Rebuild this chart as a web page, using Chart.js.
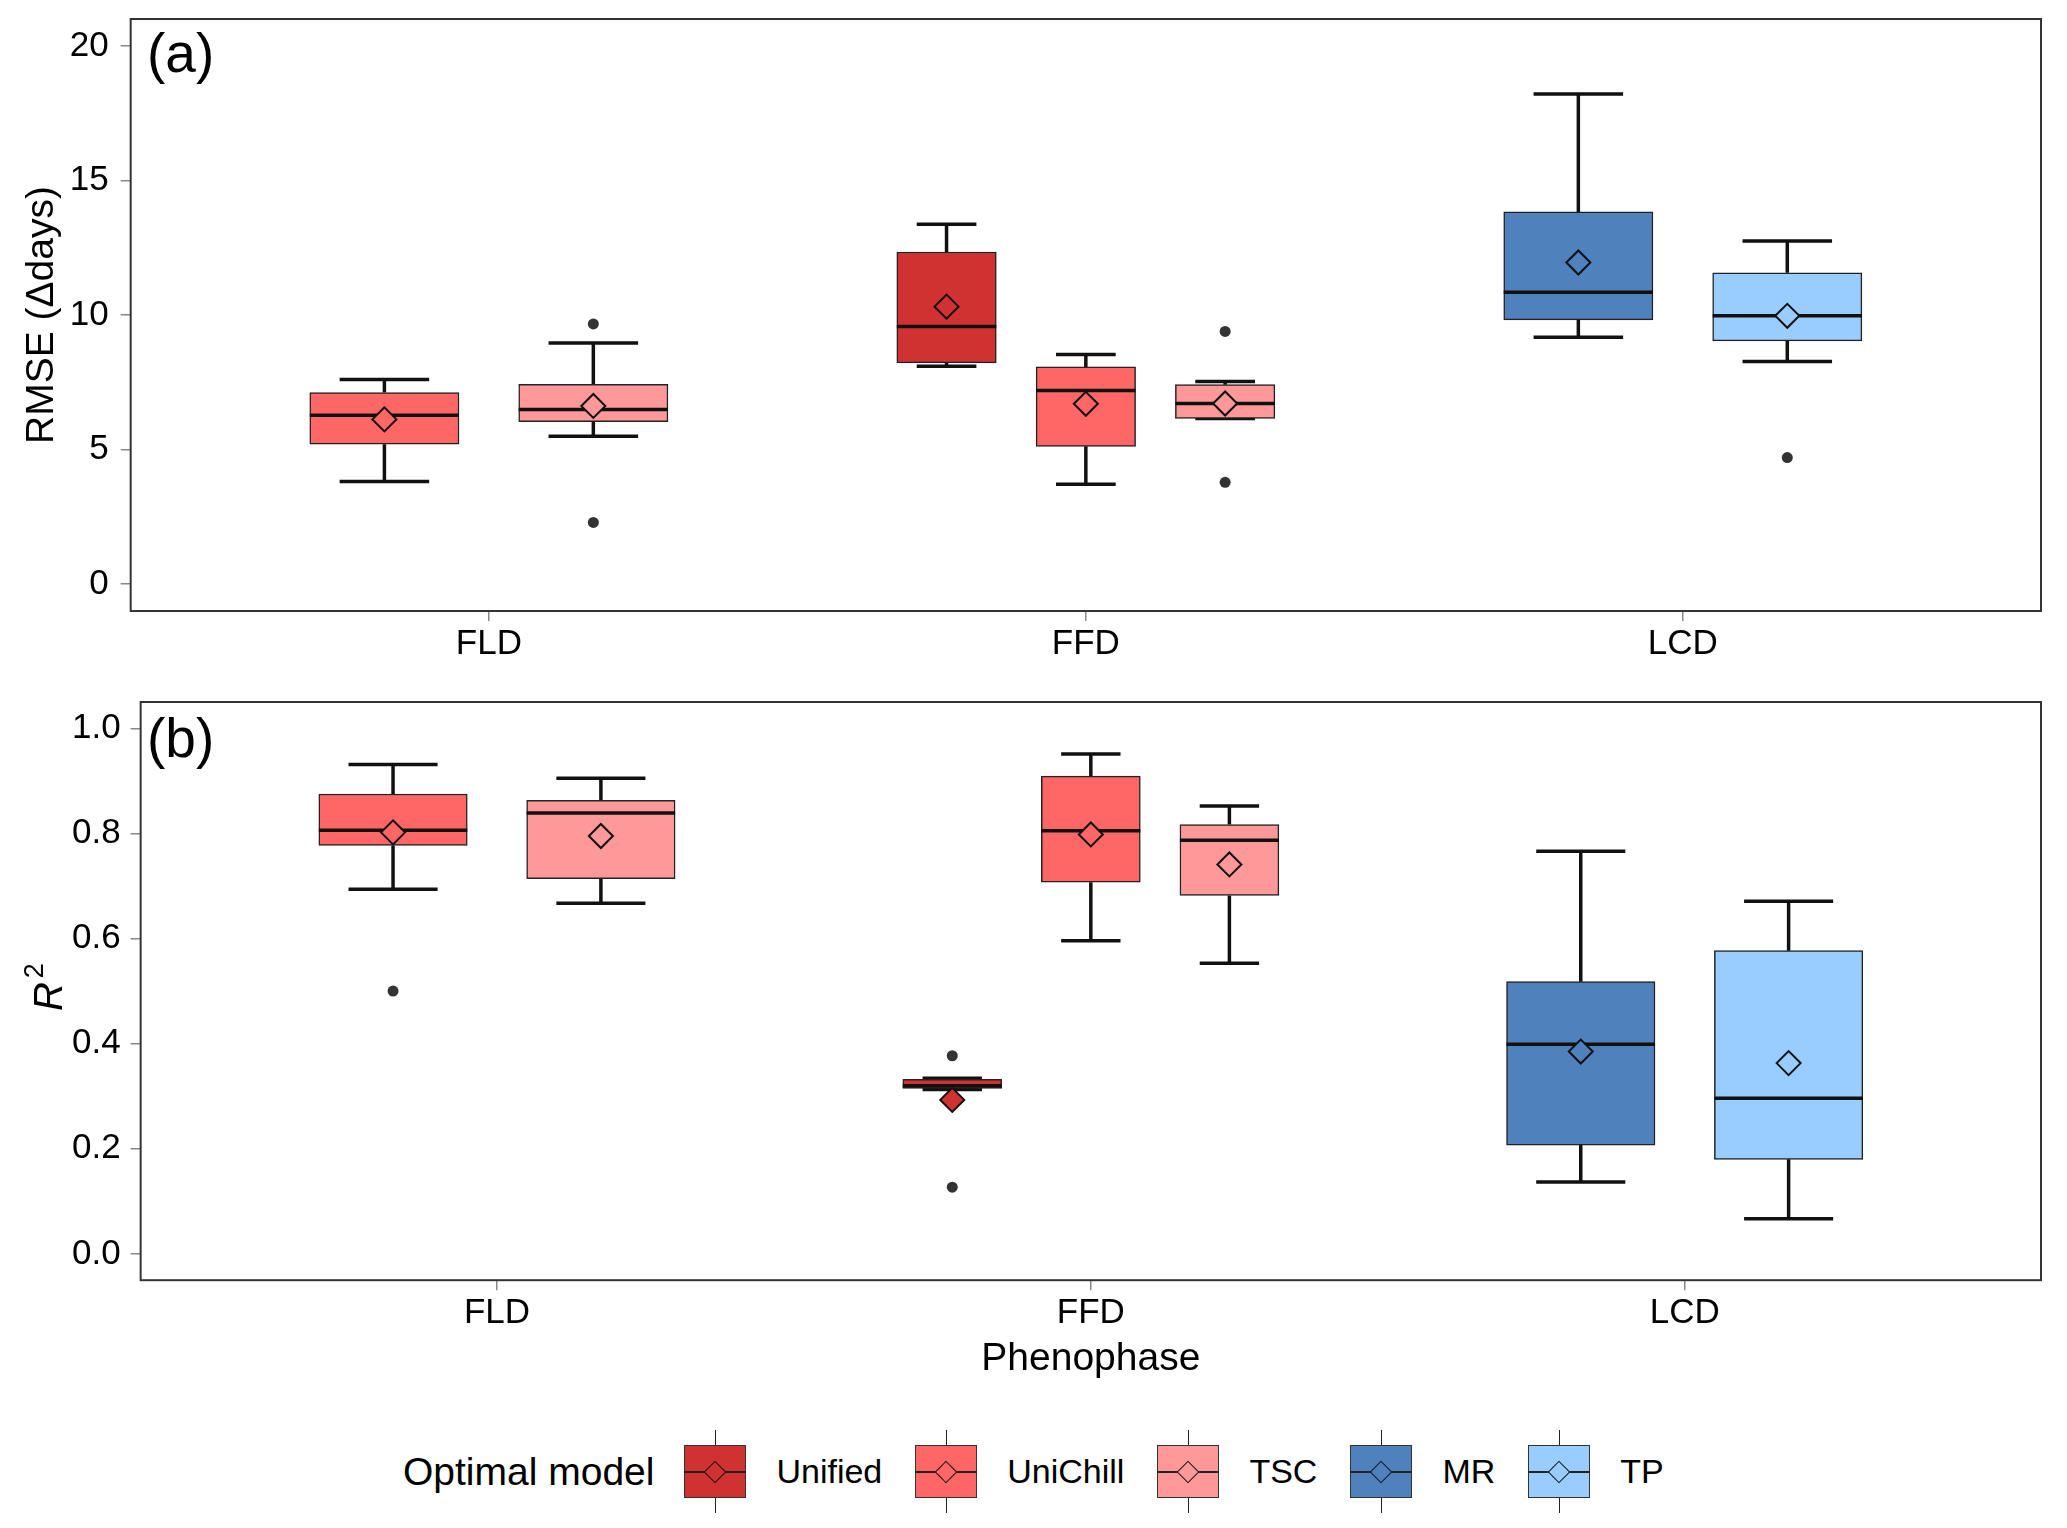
<!DOCTYPE html>
<html>
<head>
<meta charset="utf-8">
<title>RMSE and R2 of optimal phenology models</title>
<script src="https://cdn.jsdelivr.net/npm/chart.js@4.4.1/dist/chart.umd.min.js"></script>
<style>
  html, body { margin: 0; padding: 0; background: #fff; }
  #wrap { position: relative; width: 2067px; height: 1528px; font-family: 'Liberation Sans', Arial, sans-serif; color: #000; }
  #chartA { position: absolute; left: 0; top: 0; }
  #chartB { position: absolute; left: 0; top: 680px; }
  #legend { position: absolute; left: 403px; top: 1430px; height: 83px; display: flex; align-items: center; white-space: nowrap; }
  .ltitle { font-size: 39px; margin-right: 30px; }
  .llab { font-size: 34px; margin-right: 33px; }
  .lkey { position: relative; width: 62px; height: 83px; margin-right: 30px; flex: none; }
  .lkey .box { position: absolute; left: 0; top: 15px; width: 62px; height: 53px; box-sizing: border-box; border: 1.5px solid #333; }
  .lkey .wh { position: absolute; left: 30.5px; width: 1.5px; height: 15px; background: #222; }
  .lkey .top { top: 0; }
  .lkey .bot { top: 68px; }
  .lkey .med { position: absolute; left: 0; top: 40.5px; width: 62px; height: 2px; background: #222; }
  .lkey .dia { position: absolute; left: 23px; top: 33.5px; width: 16px; height: 16px; box-sizing: border-box; border: 1.5px solid #111; transform: rotate(45deg); }
</style>
</head>
<body>
<div id="wrap">
  <canvas id="chartA" width="2067" height="680"></canvas>
  <canvas id="chartB" width="2067" height="720"></canvas>
  <div id="legend"><span class="ltitle">Optimal model</span></div>
</div>
<script>
// Categories and models
const phases = ["FLD", "FFD", "LCD"];
const modelNames = ["Unified", "UniChill", "TSC", "MR", "TP"];
const modelColors = ["#D03232", "#FF6666", "#FF9999", "#4F81BD", "#99CCFF"];

// One entry per box, left to right
const boxPhase = ["FLD", "FLD", "FFD", "FFD", "FFD", "LCD", "LCD"];
const boxModel = ["UniChill", "TSC", "Unified", "UniChill", "TSC", "MR", "TP"];

// (a) RMSE (days)
const rmseLow    = [3.81, 5.49, 8.10, 3.71, 6.15, 9.17, 8.27];
const rmseQ1     = [5.20, 6.04, 8.22, 5.12, 6.16, 9.82, 9.04];
const rmseMedian = [6.27, 6.49, 9.57, 7.19, 6.71, 10.85, 9.97];
const rmseQ3     = [7.12, 7.42, 12.34, 8.07, 7.41, 13.83, 11.57];
const rmseHigh   = [7.60, 8.96, 13.37, 8.53, 7.53, 18.21, 12.75];
const rmseMean   = [6.12, 6.62, 10.31, 6.70, 6.71, 11.95, 9.97];
const rmseOutliers = [[], [9.67, 2.29], [], [], [9.39, 3.78], [], [4.70]];
const rmseTicks = [0, 5, 10, 15, 20];

// (b) R2
const r2Low    = [0.694, 0.667, 0.313, 0.596, 0.553, 0.137, 0.067];
const r2Q1     = [0.777, 0.714, 0.315, 0.707, 0.682, 0.207, 0.180];
const r2Median = [0.806, 0.839, 0.320, 0.805, 0.787, 0.399, 0.296];
const r2Q3     = [0.875, 0.863, 0.332, 0.909, 0.817, 0.518, 0.577];
const r2High   = [0.931, 0.905, 0.334, 0.951, 0.852, 0.766, 0.671];
const r2Mean   = [0.802, 0.795, 0.293, 0.798, 0.741, 0.385, 0.363];
const r2Outliers = [[0.500], [], [0.377, 0.127], [], [], [], []];
const r2Ticks = [0, 0.2, 0.4, 0.6, 0.8, 1.0];

const FONT = "'Liberation Sans', Arial, sans-serif";
Chart.defaults.font.family = FONT;
Chart.defaults.color = '#000';

function colorOf(model) {
    return modelColors[modelNames.indexOf(model)];
}

// Dodged x position and width (category units) of every box
function boxLayout() {
    return boxPhase.map((ph, i) => {
        const n = boxPhase.filter(p => p === ph).length;
        const k = boxPhase.slice(0, i).filter(p => p === ph).length;
        const slot = 0.7 / n;
        return { x: phases.indexOf(ph) + 1 + (k - (n - 1) / 2) * slot, width: 0.5 / n };
    });
}

function buildDatasets(s) {
    const whiskers = [], medians = [], means = [], meanColors = [], outliers = [], boxes = [];

    boxLayout().forEach((b, i) => {
        const color = colorOf(boxModel[i]);
        const half = b.width / 2;
        const cap = b.width * 0.3;

        whiskers.push({ x: b.x, y: s.low[i] }, { x: b.x, y: s.q1[i] }, { x: b.x, y: null });
        whiskers.push({ x: b.x, y: s.q3[i] }, { x: b.x, y: s.high[i] }, { x: b.x, y: null });
        whiskers.push({ x: b.x - cap, y: s.low[i] }, { x: b.x + cap, y: s.low[i] }, { x: b.x, y: null });
        whiskers.push({ x: b.x - cap, y: s.high[i] }, { x: b.x + cap, y: s.high[i] }, { x: b.x, y: null });

        medians.push({ x: b.x - half, y: s.median[i] }, { x: b.x + half, y: s.median[i] }, { x: b.x, y: null });

        means.push({ x: b.x, y: s.mean[i] });
        meanColors.push(color);

        s.outliers[i].forEach(v => outliers.push({ x: b.x, y: v }));

        boxes.push({
            type: 'bar',
            data: [{ x: b.x, y: [s.q1[i], s.q3[i]] }],
            backgroundColor: color,
            borderColor: '#222',
            borderWidth: 1.5,
            borderSkipped: false,
            grouped: false,
            boxWidthUnits: b.width
        });
    });

    return [
        { type: 'scatter', data: means, pointStyle: 'rectRot', pointRadius: 12,
          pointBackgroundColor: meanColors, pointBorderColor: '#111', pointBorderWidth: 2 },
        { type: 'scatter', data: outliers, pointStyle: 'circle', pointRadius: 5.5,
          pointBackgroundColor: '#333', pointBorderColor: '#333', pointBorderWidth: 0 },
        { type: 'scatter', data: medians, showLine: true, spanGaps: false,
          borderColor: '#111', borderWidth: 3.5, pointRadius: 0 },
        ...boxes,
        { type: 'scatter', data: whiskers, showLine: true, spanGaps: false,
          borderColor: '#111', borderWidth: 3.5, pointRadius: 0 }
    ];
}

// Box widths follow the x scale (units -> pixels)
const boxWidthPlugin = {
    id: 'boxWidth',
    beforeDatasetsUpdate(chart) {
        const xs = chart.scales.x;
        const pxPerUnit = xs.width / (xs.max - xs.min);
        chart.data.datasets.forEach(ds => {
            if (ds.boxWidthUnits) ds.barThickness = ds.boxWidthUnits * pxPerUnit;
        });
    }
};

// Frame around the plot area and the panel letter
const panelFrame = {
    id: 'panelFrame',
    afterDatasetsDraw(chart, args, opts) {
        const { ctx, chartArea: a } = chart;
        ctx.save();
        ctx.strokeStyle = '#333';
        ctx.lineWidth = 2;
        ctx.strokeRect(a.left, a.top, a.right - a.left, a.bottom - a.top);
        ctx.fillStyle = '#000';
        ctx.font = '55px ' + FONT;
        ctx.textBaseline = 'middle';
        ctx.textAlign = 'left';
        ctx.fillText(opts.label, 147, a.top + opts.labelY);
        ctx.restore();
    }
};

// Italic R with superscript 2 as the y title of panel (b)
const r2Title = {
    id: 'r2Title',
    afterDraw(chart) {
        const { ctx, chartArea: a } = chart;
        ctx.save();
        ctx.translate(62, (a.top + a.bottom) / 2 - 4);
        ctx.rotate(-Math.PI / 2);
        ctx.fillStyle = '#000';
        ctx.textBaseline = 'alphabetic';
        ctx.font = 'italic 40px ' + FONT;
        const wR = ctx.measureText('R').width;
        ctx.font = '27px ' + FONT;
        const w2 = ctx.measureText('2').width;
        const x0 = -(wR + 4 + w2) / 2;
        ctx.font = 'italic 40px ' + FONT;
        ctx.fillText('R', x0, 0);
        ctx.font = '27px ' + FONT;
        ctx.fillText('2', x0 + wR + 4, -19);
        ctx.restore();
    }
};

function makeChart(canvasId, stats, yRange, yTicks, yFormat, cfg) {
    return new Chart(document.getElementById(canvasId), {
        type: 'bar',
        data: { datasets: buildDatasets(stats) },
        options: {
            responsive: false,
            animation: false,
            devicePixelRatio: 1,
            events: [],
            layout: { padding: cfg.padding },
            plugins: {
                legend: { display: false },
                tooltip: { enabled: false },
                panelFrame: { label: cfg.label, labelY: cfg.labelY }
            },
            scales: {
                x: {
                    type: 'linear',
                    min: 0.4,
                    max: 3.6,
                    offset: false,
                    afterBuildTicks: sc => { sc.ticks = phases.map((p, i) => ({ value: i + 1 })); },
                    ticks: { callback: v => phases[v - 1], font: { size: 35 }, color: '#000',
                             padding: 2, maxRotation: 0, autoSkip: false },
                    grid: { drawOnChartArea: false, drawTicks: true, tickLength: 10,
                            color: '#888', lineWidth: 1.5, offset: false },
                    border: { display: false },
                    title: cfg.xTitle
                },
                y: {
                    type: 'linear',
                    min: yRange[0],
                    max: yRange[1],
                    afterBuildTicks: sc => { sc.ticks = yTicks.map(v => ({ value: v })); },
                    // small lineHeight keeps the end labels from padding the plot area
                    ticks: { callback: yFormat, font: { size: 35, lineHeight: 0.4 }, color: '#000', padding: cfg.yPad },
                    grid: { drawOnChartArea: false, drawTicks: true, tickLength: 10,
                            color: '#888', lineWidth: 1.5 },
                    border: { display: false },
                    title: cfg.yTitle
                }
            }
        },
        plugins: cfg.plugins
    });
}

makeChart('chartA',
    { low: rmseLow, q1: rmseQ1, median: rmseMedian, q3: rmseQ3, high: rmseHigh, mean: rmseMean, outliers: rmseOutliers },
    [-1, 21], rmseTicks, v => String(v),
    {
        padding: { top: 19, left: 24, right: 26, bottom: 13 },
        label: '(a)', labelY: 38, yPad: 12,
        xTitle: { display: false },
        yTitle: { display: true, text: 'RMSE (\u0394days)', font: { size: 39, lineHeight: 0.75 }, color: '#000',
                  padding: { top: 4, bottom: 0.5 } },
        plugins: [boxWidthPlugin, panelFrame]
    });

makeChart('chartB',
    { low: r2Low, q1: r2Q1, median: r2Median, q3: r2Q3, high: r2High, mean: r2Mean, outliers: r2Outliers },
    [-0.05, 1.05], r2Ticks, v => v.toFixed(1),
    {
        padding: { top: 22, left: 62, right: 26, bottom: 13 },
        label: '(b)', labelY: 40, yPad: 10,
        xTitle: { display: true, text: 'Phenophase', font: { size: 39 }, color: '#000', padding: { top: 0, bottom: 4 } },
        yTitle: { display: false },
        plugins: [boxWidthPlugin, panelFrame, r2Title]
    });

// Legend built from the model list
const legendEl = document.getElementById('legend');
modelNames.forEach((name, i) => {
    const key = document.createElement('div');
    key.className = 'lkey';
    key.innerHTML =
        '<div class="wh top"></div>' +
        '<div class="box" style="background:' + modelColors[i] + '"></div>' +
        '<div class="med"></div>' +
        '<div class="dia" style="background:' + modelColors[i] + '"></div>' +
        '<div class="wh bot"></div>';
    const lab = document.createElement('span');
    lab.className = 'llab';
    lab.textContent = name;
    if (i === modelNames.length - 1) lab.style.marginRight = '0';
    legendEl.appendChild(key);
    legendEl.appendChild(lab);
});
</script>
</body>
</html>
